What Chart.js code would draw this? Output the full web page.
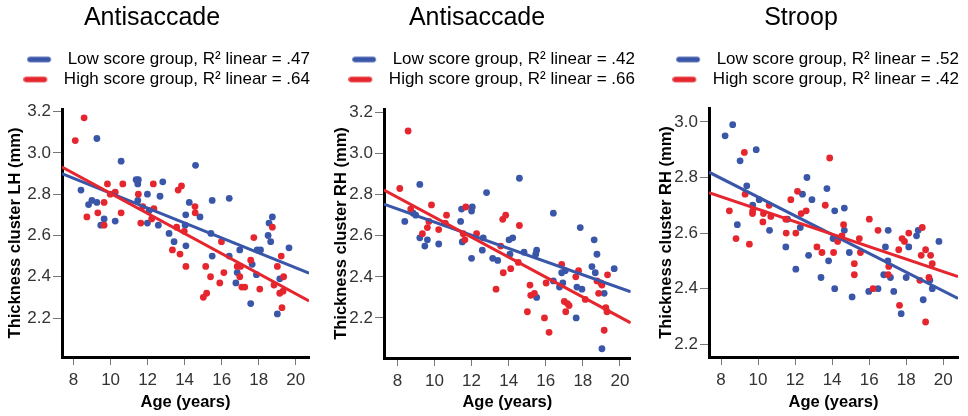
<!DOCTYPE html>
<html>
<head>
<meta charset="utf-8">
<script src="https://cdn.jsdelivr.net/npm/chart.js@4.4.1/dist/chart.umd.min.js"></script>
<style>
html,body{margin:0;padding:0;background:#fff;width:968px;height:416px;overflow:hidden;position:relative}
canvas{position:absolute;top:0}
</style>
</head>
<body>
<canvas id="c1" width="322" height="416" style="left:-9px"></canvas>
<canvas id="c2" width="322" height="416" style="left:316px"></canvas>
<canvas id="c3" width="322" height="416" style="left:640px"></canvas>
<script>
// ---------- data ----------
const xTicks = [8, 10, 12, 14, 16, 18, 20];
const yTicksAnti = [2.2, 2.4, 2.6, 2.8, 3.0, 3.2];
const yTicksStroop = [2.2, 2.4, 2.6, 2.8, 3.0];

const titles = ['Antisaccade', 'Antisaccade', 'Stroop'];
const yTitles = ['Thickness cluster LH (mm)', 'Thickness cluster RH (mm)', 'Thickness cluster RH (mm)'];
const xTitle = 'Age (years)';
const lowLabels = ['Low score group, R² linear = .47', 'Low score group, R² linear = .42', 'Low score group, R² linear = .52'];
const highLabels = ['High score group, R² linear = .64', 'High score group, R² linear = .66', 'High score group, R² linear = .42'];

// Panel 1: Antisaccade, LH
const ageLow1 = [8.40,8.81,8.99,9.26,9.26,9.47,9.65,10.25,10.57,11.38,11.50,11.47,11.47,11.99,11.99,12.08,12.58,12.67,12.82,13.16,13.43,14.03,14.06,14.07,14.25,14.59,14.83,15.42,15.49,15.49,16.41,16.41,16.77,16.84,16.98,17.57,17.65,17.88,17.92,18.10,18.51,18.56,18.65,18.74,19.01,19.14,19.64];
const thkLow1 = [2.82,2.75,2.77,2.76,3.07,2.65,2.68,2.67,2.96,2.87,2.87,2.85,2.77,2.80,2.66,2.72,2.65,2.79,2.86,2.61,2.57,2.65,2.70,2.55,2.76,2.94,2.69,2.61,2.77,2.50,2.78,2.50,2.37,2.42,2.53,2.27,2.46,2.41,2.53,2.53,2.60,2.66,2.57,2.69,2.22,2.39,2.54];
const ageHigh1 = [8.09,8.57,8.72,9.31,9.65,9.65,9.83,9.98,10.25,10.57,10.66,11.50,11.63,11.74,12.22,12.31,12.34,13.65,13.83,13.57,13.34,13.75,14.07,13.98,14.56,14.57,15.14,15.19,15.01,15.40,15.90,15.99,16.12,16.84,16.98,17.02,17.09,17.25,17.57,17.74,18.06,18.74,18.83,19.01,19.22,19.14,19.26,19.35,19.32];
const thkHigh1 = [3.06,3.17,2.69,2.71,2.76,2.65,2.85,2.80,2.81,2.71,2.85,2.80,2.66,2.74,2.68,2.85,2.73,2.82,2.84,2.64,2.53,2.51,2.45,2.62,2.74,2.71,2.45,2.32,2.30,2.40,2.37,2.57,2.42,2.45,2.40,2.45,2.35,2.35,2.48,2.59,2.34,2.64,2.36,2.45,2.50,2.32,2.25,2.40,2.33];
const fitAge1 = [7.375, 20.72];
const fitLow1 = [2.90, 2.417];
const fitHigh1 = [2.932, 2.283];

// Panel 2: Antisaccade, RH
const ageLow2 = [8.40,8.85,8.99,9.21,9.21,9.48,9.62,10.23,10.56,11.41,11.46,11.50,12.00,12.04,12.00,12.58,12.63,12.81,13.14,13.41,14.02,14.07,14.22,14.58,14.83,15.46,15.51,15.51,16.41,16.41,16.74,16.86,16.92,17.05,17.64,17.68,17.86,17.95,18.49,18.61,18.67,18.76,19.03,19.15,19.69];
const thkLow2 = [2.67,2.71,2.70,2.85,2.59,2.55,2.58,2.56,2.66,2.67,2.73,2.57,2.72,2.74,2.49,2.53,2.59,2.81,2.49,2.48,2.58,2.51,2.59,2.88,2.52,2.51,2.53,2.30,2.71,2.38,2.35,2.42,2.37,2.43,2.20,2.35,2.64,2.34,2.45,2.58,2.42,2.51,2.05,2.32,2.44];
const ageHigh2 = [8.13,8.58,8.72,9.35,9.62,9.70,9.84,10.23,10.65,10.59,11.69,11.64,11.55,12.27,13.32,13.71,13.68,13.84,13.57,14.11,14.52,14.58,15.01,15.15,15.19,15.39,15.93,16.02,16.18,16.86,17.00,17.08,17.17,17.26,17.62,17.77,18.13,18.76,18.85,19.03,19.15,19.24,19.30,19.33,18.97];
const thkHigh2 = [2.83,3.11,2.73,2.61,2.64,2.67,2.75,2.63,2.70,2.66,2.74,2.58,2.61,2.61,2.34,2.42,2.68,2.70,2.55,2.44,2.47,2.65,2.23,2.36,2.31,2.32,2.20,2.37,2.13,2.46,2.28,2.23,2.27,2.26,2.40,2.43,2.29,2.38,2.32,2.36,2.14,2.25,2.23,2.41,2.37];
const fitAge2 = [7.28, 20.58];
const fitLow2 = [2.754, 2.327];
const fitHigh2 = [2.823, 2.176];

// Panel 3: Stroop, RH
const ageLow3 = [8.22,8.63,8.88,9.03,9.39,9.71,9.90,10.06,10.62,11.50,11.59,12.04,12.28,12.40,12.64,12.73,12.91,13.40,13.72,13.81,14.05,14.14,14.14,14.66,14.66,14.93,15.08,15.98,16.48,16.79,16.88,17.01,17.03,17.15,17.33,17.73,18.00,18.14,18.56,18.65,18.92,19.28,19.41,19.77];
const thkLow3 = [2.95,2.99,2.63,2.86,2.77,2.70,2.90,2.72,2.61,2.55,2.65,2.47,2.62,2.74,2.80,2.52,2.72,2.44,2.76,2.50,2.58,2.68,2.40,2.69,2.61,2.53,2.37,2.39,2.40,2.45,2.55,2.50,2.61,2.44,2.39,2.31,2.44,2.55,2.59,2.61,2.36,2.43,2.40,2.57];
const ageHigh3 = [8.45,8.81,9.26,9.30,9.53,9.70,9.71,10.26,10.29,10.60,10.69,11.50,11.52,11.77,12.04,12.13,12.33,12.60,13.18,13.45,13.63,13.87,14.08,14.30,14.53,14.62,15.20,15.20,15.47,15.53,16.01,16.21,16.48,17.03,17.06,17.60,17.64,17.78,17.91,18.14,18.74,18.81,18.87,19.05,19.05,19.23,19.32,19.41];
const thkHigh3 = [2.68,2.58,2.89,2.74,2.56,2.67,2.68,2.64,2.67,2.70,2.66,2.65,2.60,2.72,2.60,2.75,2.67,2.68,2.55,2.53,2.70,2.87,2.53,2.57,2.59,2.63,2.49,2.45,2.58,2.53,2.65,2.40,2.61,2.45,2.48,2.54,2.34,2.58,2.57,2.60,2.43,2.52,2.62,2.54,2.28,2.44,2.52,2.49];
const fitAge3 = [7.35, 20.8];
const fitLow3 = [2.819, 2.365];
const fitHigh3 = [2.745, 2.443];

// ---------- styling ----------
const FONT = "'Liberation Sans', Arial, Helvetica, sans-serif";
const BLUE = '#3a56a8';
const RED = '#e6262e';

function toXY(xs, ys) { return xs.map((x, i) => ({x: x, y: ys[i]})); }

function legendMarker(color) {
  const c = document.createElement('canvas');
  c.width = 32; c.height = 8;
  const g = c.getContext('2d');
  g.strokeStyle = color; g.lineWidth = 5.5; g.lineCap = 'round';
  g.beginPath(); g.moveTo(3, 4); g.lineTo(21, 4); g.stroke();
  return c;
}
const markerLow = legendMarker(BLUE);
const markerHigh = legendMarker(RED);

// empty layout boxes used as spacing (top gap under the legend, right gap beside the plot)
function spacer(topH, rightW) {
  return {
    id: 'spacer',
    beforeInit(chart) {
      Chart.layouts.addBox(chart, {
        position: 'top', weight: 10, fullSize: true, options: {},
        isHorizontal() { return true; },
        update(w) { this.width = w; this.height = topH; },
        draw() {}
      });
      Chart.layouts.addBox(chart, {
        position: 'right', weight: 10, fullSize: false, options: {},
        isHorizontal() { return false; },
        update(w, h) { this.width = rightW; this.height = h; },
        draw() {}
      });
    }
  };
}

function makeChart(p) {
  return new Chart(document.getElementById(p.id), {
    type: 'scatter',
    data: {
      datasets: [
        {label: p.lowLabel, data: toXY(p.ageLow, p.thkLow), backgroundColor: BLUE, borderColor: BLUE, borderWidth: 0, pointRadius: 3.4, order: 3},
        {label: p.highLabel, data: toXY(p.ageHigh, p.thkHigh), backgroundColor: RED, borderColor: RED, borderWidth: 0, pointRadius: 3.4, order: 2},
        {type: 'line', label: 'fitLow', data: toXY(p.fitAge, p.fitLow), borderColor: BLUE, borderWidth: 3, pointRadius: 0, fill: false, order: 1},
        {type: 'line', label: 'fitHigh', data: toXY(p.fitAge, p.fitHigh), borderColor: RED, borderWidth: 3, pointRadius: 0, fill: false, order: 0}
      ]
    },
    plugins: [spacer(p.spacerTop, p.spacerRight)],
    options: {
      responsive: false,
      animation: false,
      events: [],
      layout: {padding: 0},
      plugins: {
        tooltip: {enabled: false},
        title: {
          display: true, text: p.title, color: '#000',
          font: {family: FONT, size: 25, weight: 'normal'},
          padding: {top: 3.5, bottom: 14.5}
        },
        legend: {
          display: true, position: 'top', align: 'end',
          labels: {
            usePointStyle: true, pointStyleWidth: 32, padding: 3, color: '#000',
            font: {family: FONT, size: 17},
            generateLabels(chart) {
              const ds = chart.data.datasets;
              return [
                {text: ds[0].label, pointStyle: markerLow, fillStyle: BLUE, strokeStyle: BLUE, lineWidth: 0, hidden: false, datasetIndex: 0, fontColor: '#000'},
                {text: ds[1].label, pointStyle: markerHigh, fillStyle: RED, strokeStyle: RED, lineWidth: 0, hidden: false, datasetIndex: 1, fontColor: '#000'}
              ];
            }
          }
        }
      },
      scales: {
        x: {
          type: 'linear', min: p.xMin, max: p.xMax,
          afterBuildTicks(s) { s.ticks = xTicks.map(v => ({value: v})); },
          afterFit(s) { s.height = p.xAxisH; },
          ticks: {font: {family: FONT, size: 17}, color: '#333', padding: 5, maxRotation: 0, autoSkip: false, callback: v => String(v)},
          grid: {drawOnChartArea: false, drawTicks: true, tickLength: 8, color: '#777', lineWidth: 1},
          border: {display: true, color: '#000', width: 3},
          title: {display: true, text: xTitle, color: '#000', font: {family: FONT, size: 16.5, weight: 'bold'}, padding: {top: 0, bottom: 3.5}}
        },
        y: {
          type: 'linear', min: p.yMin, max: p.yMax,
          afterBuildTicks(s) { s.ticks = p.yTicks.map(v => ({value: v})); },
          afterFit(s) { s.width = p.yAxisW; },
          ticks: {font: {family: FONT, size: 17}, color: '#333', padding: 2, autoSkip: false, callback: v => Number(v).toFixed(1)},
          grid: {drawOnChartArea: false, drawTicks: true, tickLength: 9, color: '#777', lineWidth: 1},
          border: {display: true, color: '#000', width: 3},
          title: {display: true, text: p.yTitle, color: '#000', font: {family: FONT, size: 16.5, weight: 'bold'}, padding: {top: p.yTitlePad, bottom: 0}}
        }
      }
    }
  });
}

makeChart({id: 'c1', title: titles[0], yTitle: yTitles[0], lowLabel: lowLabels[0], highLabel: highLabels[0],
  ageLow: ageLow1, thkLow: thkLow1, ageHigh: ageHigh1, thkHigh: thkHigh1, fitAge: fitAge1, fitLow: fitLow1, fitHigh: fitHigh1,
  xMin: 7.375, xMax: 20.72, yMin: 2.011, yMax: 3.213, yTicks: yTicksAnti,
  yAxisW: 71, xAxisH: 59, spacerTop: 11, spacerRight: 3.7, yTitlePad: 15});

makeChart({id: 'c2', title: titles[1], yTitle: yTitles[1], lowLabel: lowLabels[1], highLabel: highLabels[1],
  ageLow: ageLow2, thkLow: thkLow2, ageHigh: ageHigh2, thkHigh: thkHigh2, fitAge: fitAge2, fitLow: fitLow2, fitHigh: fitHigh2,
  xMin: 7.28, xMax: 20.58, yMin: 2.005, yMax: 3.217, yTicks: yTicksAnti,
  yAxisW: 68, xAxisH: 58, spacerTop: 11, spacerRight: 7.3, yTitlePad: 15.5});

makeChart({id: 'c3', title: titles[2], yTitle: yTitles[2], lowLabel: lowLabels[2], highLabel: highLabels[2],
  ageLow: ageLow3, thkLow: thkLow3, ageHigh: ageHigh3, thkHigh: thkHigh3, fitAge: fitAge3, fitLow: fitLow3, fitHigh: fitHigh3,
  xMin: 7.35, xMax: 20.8, yMin: 2.154, yMax: 3.05, yTicks: yTicksStroop,
  yAxisW: 69, xAxisH: 59, spacerTop: 10, spacerRight: 4, yTitlePad: 16.5});
</script>
</body>
</html>
